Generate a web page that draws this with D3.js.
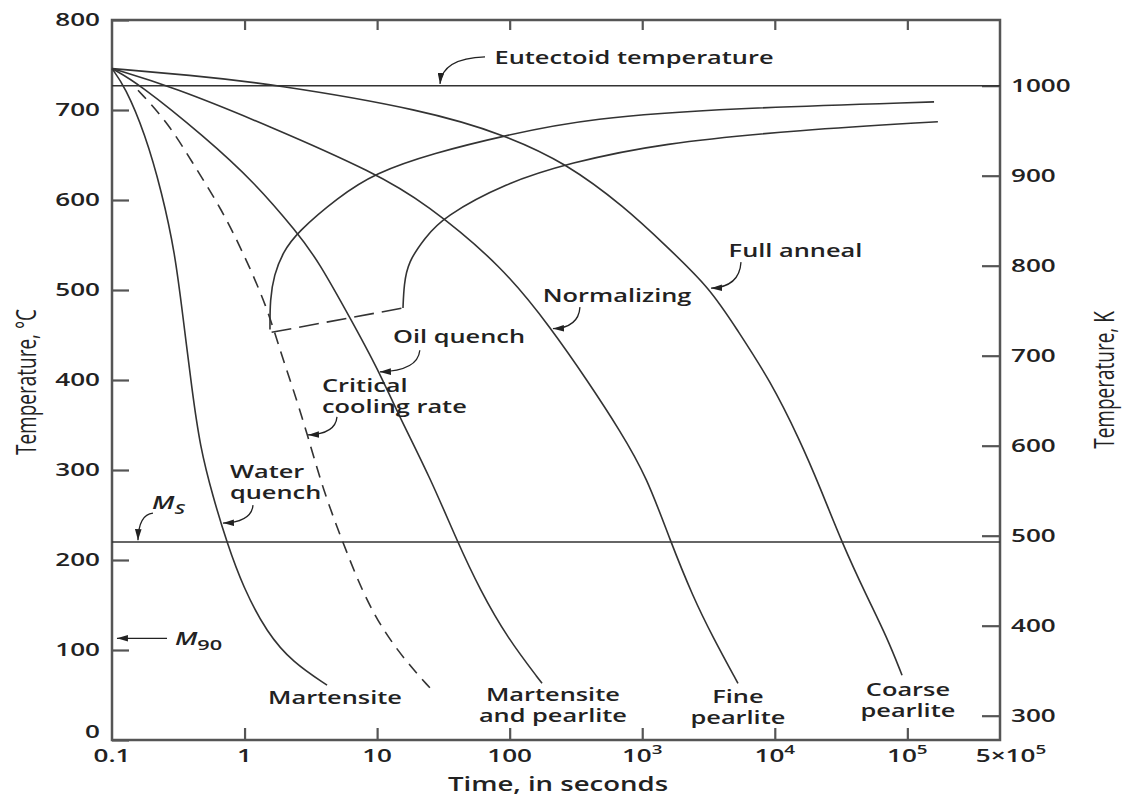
<!DOCTYPE html>
<html>
<head>
<meta charset="utf-8">
<script src="https://cdn.jsdelivr.net/npm/d3@7"></script>
<style>
  body { margin: 0; background: #fff; }
  text { font-family: "Open Sans", "Noto Sans", sans-serif; fill: #222; }
</style>
</head>
<body>
<div id="my_dataviz"></div>
<script>
// curves: [time in s, temperature in °C]
const waterQuench = [[0.1,746],[0.1253,726],[0.1774,674],[0.2384,608],[0.2987,541],[0.3432,470],[0.4013,389],[0.461,326],[0.578,270],[0.737,219],[0.973,170],[1.476,119],[2.32,86],[4.19,61]];
const criticalRate = [[0.1571,722],[0.2646,686],[0.4227,637],[0.6757,589],[1.008,537],[1.476,481],[1.851,433],[2.28,394],[2.96,341],[3.91,278],[5.53,219],[7.83,163],[11.07,122],[16.8,86],[25.0,58]];
const oilQuench = [[0.1,746],[0.1571,730],[0.5029,670],[1.199,619],[2.487,564],[3.58,533],[6.58,463],[9.97,414],[14.88,358],[25.06,292],[40.7,219],[59.7,167],[95.4,114],[175.4,63]];
const normalizing = [[0.1,746],[0.2836,726],[1.61,681],[9.64,630],[22.96,597],[89.1,526],[208.5,456],[383,400],[679,344],[1086,292],[1620,222],[2415,159],[3418,114],[5275,63]];
const fullAnneal = [[0.1,746],[0.3745,739],[1.61,729],[22.96,700],[93.7,672],[266,641],[741,592],[1538,548],[3245,502],[5190,456],[9200,400],[15490,333],[21930,281],[32140,219],[49640,159],[70200,114],[91200,72]];
const startCurve = [[1.555,456],[1.555,489],[1.668,517],[1.95,542],[2.487,564],[5.07,603],[9.64,630],[26.4,652],[93.7,672],[403,691],[4674,702],[159000,709]];
const finishCurve = [[15.67,480],[15.95,506],[17.1,531],[22.96,558],[31.4,581],[93.7,619],[280,641],[1361,663],[15780,678],[170000,687]];
const noseLink = [[1.6,453],[15.67,480]];

const eutectoidTemp = 727;
const msTemp = 220;
const m90Temp = 113;

// axes
const tempTicksC = [0,100,200,300,400,500,600,700,800];
const tempTicksK = [300,400,500,600,700,800,900,1000];
const timeTicks = [1,10,100,1e3,1e4,1e5];
const timeLabelValues = [0.1,1,10,100,1e3,1e4,1e5,5e5];
const timeLabelBase = ["0.1","1","10","100","10","10","10","5\u00d710"];
const timeLabelExp = ["","","","","3","4","5","5"];

// text labels [time, temp, lines, anchor]
const labels = [
  [867, 758, ["Eutectoid temperature"], "middle"],
  [14320, 544, ["Full anneal"], "middle"],
  [646, 494, ["Normalizing"], "middle"],
  [41.5, 448, ["Oil quench"], "middle"],
  [3.84, 394, ["Critical", "cooling rate"], "start"],
  [0.776, 298, ["Water", "quench"], "start"],
  [4.81, 47, ["Martensite"], "middle"],
  [212, 50, ["Martensite", "and pearlite"], "middle"],
  [5272, 48, ["Fine", "pearlite"], "middle"],
  [101000, 56, ["Coarse", "pearlite"], "middle"]
];
// arrows [fromTime, fromTemp, toTime, toTemp, bend]
const arrows = [
  [65.2, 759, 29.8, 729, "leftDown"],
  [5560, 531, 3304, 502, "downLeft"],
  [339, 481, 212, 457, "downLeft"],
  [21.0, 433, 10.5, 409, "downLeft"],
  [4.98, 359, 3.01, 339, "downLeft"],
  [1.158, 261, 0.687, 241, "downLeft"],
  [0.2037, 252, 0.157, 222, "leftDown"],
  [0.26, m90Temp, 0.109, m90Temp, "straight"]
];

const W = 1124, H = 796, stretch = 1.45;

const svg = d3.select("#my_dataviz")
  .append("svg")
    .attr("width", W)
    .attr("height", H);

const x = d3.scaleLog().domain([0.1, 5e5]).range([112, 1000]);
const y = d3.scaleLinear().domain([0, 800]).range([740, 20]);
const yK = d3.scaleLinear().domain([273, 1073]).range([740, 20]);

// widen text horizontally around its anchor (the source figure is stretched)
function wide(sel) {
  sel.each(function() {
    const t = d3.select(this);
    const px = +t.attr("x") || 0, py = +t.attr("y") || 0;
    t.attr("transform", `translate(${px},${py}) scale(${stretch},1) translate(${-px},${-py})`);
  });
}

svg.append("defs").append("marker")
    .attr("id", "head")
    .attr("viewBox", "0 0 10 6")
    .attr("refX", 10).attr("refY", 3)
    .attr("markerWidth", 11).attr("markerHeight", 6.6)
    .attr("markerUnits", "userSpaceOnUse")
    .attr("orient", "auto")
  .append("path")
    .attr("d", "M0,0 L10,3 L0,6 Z")
    .attr("fill", "#222");

// Left axis (°C)
const gl = svg.append("g")
    .attr("transform", "translate(112,0)")
    .call(d3.axisLeft(y).tickValues(tempTicksC).tickSize(-17).tickPadding(12).tickSizeOuter(0));
// Right axis (K)
const gr = svg.append("g")
    .attr("transform", "translate(1000,0)")
    .call(d3.axisRight(yK).tickValues(tempTicksK).tickFormat(d3.format("d")).tickSize(-18).tickPadding(11).tickSizeOuter(0));
// Bottom and top ticks
const gb = svg.append("g")
    .attr("transform", "translate(0,740)")
    .call(d3.axisBottom(x).tickValues(timeTicks).tickSize(-12).tickFormat("").tickSizeOuter(0));
const gt = svg.append("g")
    .attr("transform", "translate(0,20)")
    .call(d3.axisTop(x).tickValues(timeTicks).tickSize(-10).tickFormat("").tickSizeOuter(0));

[gl, gr, gb, gt].forEach(g => {
  g.select(".domain").remove();
  g.selectAll(".tick line").attr("stroke", "#555").attr("stroke-width", 2.2);
  g.selectAll(".tick text")
    .style("font-size", "18px")
    .style("font-weight", 600)
    .attr("fill", "#222");
});
gl.selectAll(".tick text").filter(d => d === 0).attr("dy", "-0.12em");
wide(gl.selectAll(".tick text"));
wide(gr.selectAll(".tick text"));

// frame
svg.append("rect")
  .attr("x", x(0.1)).attr("y", y(800))
  .attr("width", x(5e5) - x(0.1)).attr("height", y(0) - y(800))
  .attr("fill", "none")
  .attr("stroke", "#555")
  .attr("stroke-width", 2.5);

// time labels with exponents
timeLabelValues.forEach((v, i) => {
  const t = svg.append("text")
    .attr("x", x(v) + (v === 5e5 ? 11 : 0))
    .attr("y", 762)
    .attr("text-anchor", "middle")
    .style("font-size", "18px")
    .style("font-weight", 600)
    .text(timeLabelBase[i]);
  if (timeLabelExp[i]) {
    t.append("tspan")
      .attr("dy", -8)
      .style("font-size", "13px")
      .text(timeLabelExp[i]);
  }
  wide(t);
});

// axis titles
svg.append("text")
  .attr("x", 558).attr("y", 791)
  .attr("text-anchor", "middle")
  .style("font-size", "19px")
  .style("font-weight", 600)
  .text("Time, in seconds")
  .call(wide);

svg.append("text")
  .attr("text-anchor", "middle")
  .attr("dy", "0.35em")
  .attr("transform", `translate(26,382) scale(${stretch},1) rotate(-90)`)
  .style("font-size", "19px")
  .text("Temperature, \u00b0C");

svg.append("text")
  .attr("text-anchor", "middle")
  .attr("dy", "0.35em")
  .attr("transform", `translate(1104,380) scale(${stretch},1) rotate(-90)`)
  .style("font-size", "19px")
  .text("Temperature, K");

// horizontal reference lines
[eutectoidTemp, msTemp].forEach(T => {
  svg.append("line")
    .attr("x1", x(0.1)).attr("x2", x(5e5))
    .attr("y1", y(T)).attr("y2", y(T))
    .attr("stroke", "#333")
    .attr("stroke-width", 1.6);
});

// cooling and transformation curves
const line = d3.line()
  .x(d => x(d[0]))
  .y(d => y(d[1]))
  .curve(d3.curveBasis);

const curves = [
  [waterQuench, null],
  [criticalRate, "12,8"],
  [oilQuench, null],
  [normalizing, null],
  [fullAnneal, null],
  [startCurve, null],
  [finishCurve, null],
  [noseLink, "20,8"]
];
curves.forEach(([data, dash]) => {
  svg.append("path")
    .datum(data)
    .attr("fill", "none")
    .attr("stroke", "#333")
    .attr("stroke-width", 1.6)
    .attr("stroke-dasharray", dash)
    .attr("d", line);
});

// annotation text (multi-line labels as one text with tspans)
labels.forEach(([t, T, lines, anchor]) => {
  const px = x(t), py = y(T);
  const txt = svg.append("text")
    .attr("x", px).attr("y", py)
    .attr("text-anchor", anchor)
    .style("font-size", "17.5px")
    .style("font-weight", 600);
  lines.forEach((s, i) => {
    txt.append("tspan")
      .attr("x", px)
      .attr("dy", i === 0 ? "0.35em" : 21)
      .text(s);
  });
  wide(txt);
});

// M_s and M_90
const ms = svg.append("text")
  .attr("x", x(0.2004)).attr("y", y(264))
  .attr("dy", "0.35em")
  .style("font-size", "18px")
  .style("font-weight", 600);
ms.append("tspan").style("font-style", "italic").text("M");
ms.append("tspan").attr("dy", 5).style("font-style", "italic").style("font-size", "14px").text("S");
wide(ms);

const m90 = svg.append("text")
  .attr("x", x(0.2985)).attr("y", y(m90Temp))
  .attr("dy", "0.35em")
  .style("font-size", "18px")
  .style("font-weight", 600);
m90.append("tspan").style("font-style", "italic").text("M");
m90.append("tspan").attr("dy", 5).style("font-size", "15px").text("90");
wide(m90);

// arrows
arrows.forEach(([t1, T1, t2, T2, bend]) => {
  const x1 = x(t1), y1 = y(T1), x2 = x(t2), y2 = y(T2);
  let d;
  if (bend === "straight") {
    d = `M${x1},${y1} L${x2},${y2}`;
  } else {
    const mx = (x1 + x2) / 2, my = (y1 + y2) / 2;
    const cx0 = bend === "downLeft" ? x1 : x2;
    const cy0 = bend === "downLeft" ? y2 : y1;
    const cx = mx + (cx0 - mx) * 0.9, cy = my + (cy0 - my) * 0.9;
    d = `M${x1},${y1} Q${cx},${cy} ${x2},${y2}`;
  }
  svg.append("path")
    .attr("d", d)
    .attr("fill", "none")
    .attr("stroke", "#222")
    .attr("stroke-width", 1.3)
    .attr("marker-end", "url(#head)");
});
</script>
</body>
</html>
